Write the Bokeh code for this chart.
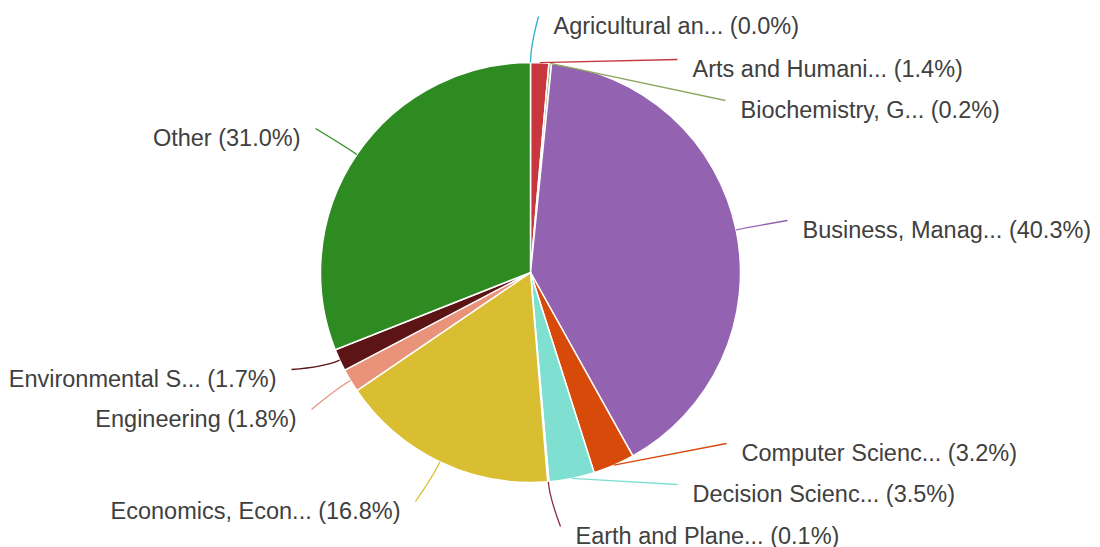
import math
from bokeh.plotting import figure
from bokeh.models import Range1d, ColumnDataSource
from bokeh.core.properties import value
from bokeh.embed import file_html
from bokeh.resources import INLINE

# ---- data ----
categories = [
    "Agricultural an...", "Arts and Humani...", "Biochemistry, G...",
    "Business, Manag...", "Computer Scienc...", "Decision Scienc...",
    "Earth and Plane...", "Economics, Econ...", "Engineering",
    "Environmental S...", "Other",
]
shares = [0.0, 1.4, 0.2, 40.3, 3.2, 3.5, 0.1, 16.8, 1.8, 1.7, 31.0]

# ---- styles / layout ----
colors = ["#2ab0c8", "#c8363e", "#8fa860", "#9362b0", "#d84a0a", "#7fe0d2",
          "#8b2a3a", "#d9be31", "#e8937a", "#5c1414", "#2e8b22"]
# label anchor (pixel coords from top-left) and side
label_px = [(553, 25), (692, 68), (740, 109), (802, 229), (741, 452), (692, 493),
            (575, 535), (400, 510), (296, 418), (276, 378), (300, 137)]
label_side = ["left", "left", "left", "left", "left", "left",
              "left", "right", "right", "right", "right"]

W, H = 1100, 547
CX, CY, R = 530, 272, 210  # pixel coords

def up(py):
    return H - py

total = sum(shares)
starts, ends, mids = [], [], []
cum = 0.0
for s in shares:
    f0 = cum / total
    cum += s
    f1 = cum / total
    starts.append(math.pi / 2 - 2 * math.pi * f0)
    ends.append(math.pi / 2 - 2 * math.pi * f1)
    mids.append(2 * math.pi * (f0 + f1) / 2)  # clockwise from top

p = figure(width=W, height=H, x_range=Range1d(0, W), y_range=Range1d(0, H),
           output_backend="svg", toolbar_location=None, min_border=0)
p.axis.visible = False
p.grid.visible = False
p.outline_line_color = None
p.background_fill_color = "white"
p.border_fill_color = "white"

src = ColumnDataSource(dict(start=starts, end=ends, color=colors))
p.wedge(x=CX, y=up(CY), radius=R, start_angle="start", end_angle="end",
        direction="clock", fill_color="color", line_color="white",
        line_width=1.5, source=src)

# leader lines + labels
x0s, y0s, x1s, y1s, cxs, cys = [], [], [], [], [], []
tx, ty, texts, aligns = [], [], [], []
for cat, s, m, (lx, ly), side in zip(categories, shares, mids, label_px, label_side):
    ux, uy = math.sin(m), -math.cos(m)  # pixel space (y down)
    sx, sy = CX + R * ux, CY + R * uy
    ex = lx - 15 if side == "left" else lx + 15
    ey = ly - 9
    dx, dy = ex - sx, ey - sy
    L = math.hypot(dx, dy)
    cosv = (ux * dx + uy * dy) / L
    k = 0.35 * L * cosv if cosv > 0.5 else 0.0
    cx_, cy_ = sx + ux * k, sy + uy * k
    if k == 0.0:
        cx_, cy_ = (sx + ex) / 2, (sy + ey) / 2
    x0s.append(sx); y0s.append(up(sy))
    x1s.append(ex); y1s.append(up(ey))
    cxs.append(cx_); cys.append(up(cy_))
    tx.append(lx); ty.append(up(ly))
    texts.append(f"{cat} ({s:.1f}%)")
    aligns.append(side)

lsrc = ColumnDataSource(dict(x0=x0s, y0=y0s, x1=x1s, y1=y1s, cx=cxs, cy=cys, color=colors))
p.quadratic(x0="x0", y0="y0", x1="x1", y1="y1", cx="cx", cy="cy",
            line_color="color", line_width=1.3, source=lsrc)

tsrc = ColumnDataSource(dict(x=tx, y=ty, text=texts, align=aligns))
p.text(x="x", y="y", text="text", text_align="align", text_baseline="middle",
       text_font=value("Liberation Sans"), text_font_size="23.5px",
       text_color="#404040", source=tsrc)

open("out.html", "w").write(file_html(p, INLINE))
